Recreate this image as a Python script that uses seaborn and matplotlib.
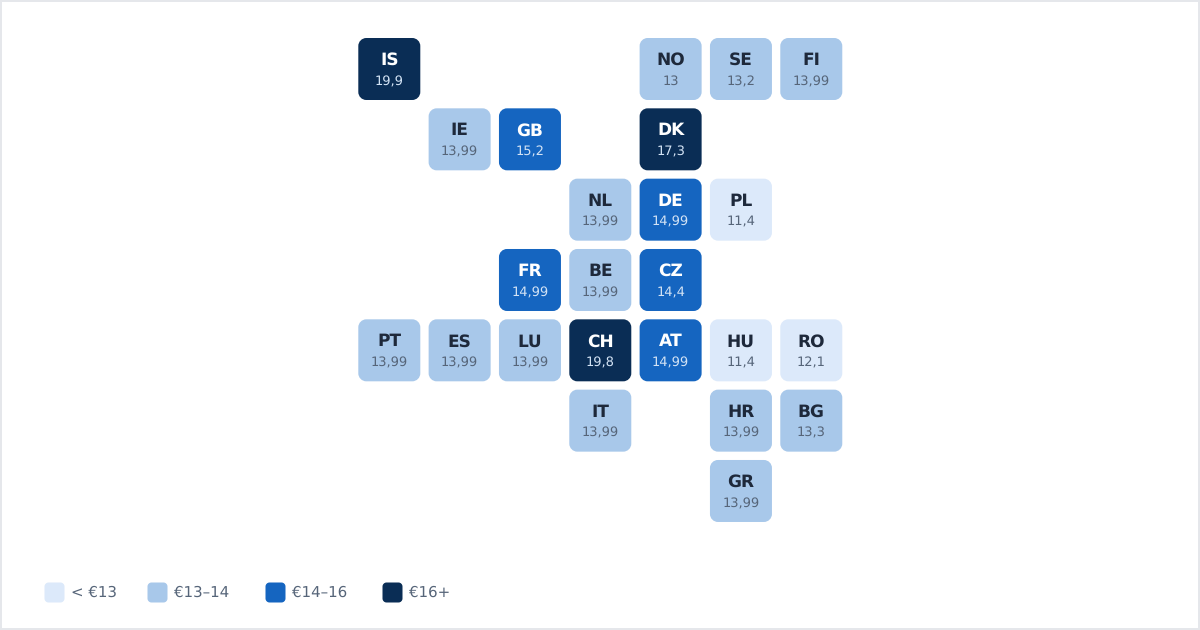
import numpy as np
import pandas as pd
import matplotlib
matplotlib.use("Agg")
import matplotlib.pyplot as plt
from matplotlib.path import Path
from matplotlib.patches import Rectangle
from matplotlib.lines import Line2D
import seaborn as sns

codes = ["IS","NO","SE","FI","IE","GB","DK","NL","DE","PL","FR","BE","CZ",
         "PT","ES","LU","CH","AT","HU","RO","IT","HR","BG","GR"]
values = [19.9,13,13.2,13.99,13.99,15.2,17.3,13.99,14.99,11.4,14.99,13.99,14.4,
          13.99,13.99,13.99,19.8,14.99,11.4,12.1,13.99,13.99,13.3,13.99]
labels = ["19,9","13","13,2","13,99","13,99","15,2","17,3","13,99","14,99","11,4","14,99","13,99","14,4",
          "13,99","13,99","13,99","19,8","14,99","11,4","12,1","13,99","13,99","13,3","13,99"]
grid_col = [0,4,5,6,1,2,4,3,4,5,2,3,4,0,1,2,3,4,5,6,3,5,6,5]
grid_row = [0,0,0,0,1,1,1,2,2,2,3,3,3,4,4,4,4,4,4,4,5,5,5,6]
bands = ["< €13","€13–14","€14–16","€16+"]
band_edges = [13,14,16]
band_colors = ["#DCE9FA","#A8C8EA","#1565C0","#0A2D55"]
code_colors = ["#1E293B","#1E293B","#FFFFFF","#FFFFFF"]
value_colors = ["#566579","#566579","#D3E3F5","#D3E3F5"]
legend_left_px = [44,147,265,382]

df = pd.DataFrame({"code":codes,"value":values,"label":labels,"col":grid_col,"row":grid_row})
df["band"] = [bands[int(np.searchsorted(band_edges, v, side="right"))] for v in df["value"]]

def rounded_square(r):
    k = 0.5523 * r
    a = 1 - r
    v = [(-a,-1),(a,-1),(a+k,-1),(1,-a-k),(1,-a),(1,a),(1,a+k),(a+k,1),(a,1),
         (-a,1),(-a-k,1),(-1,a+k),(-1,a),(-1,-a),(-1,-a-k),(-a-k,-1),(-a,-1)]
    c = [Path.MOVETO,Path.LINETO,Path.CURVE4,Path.CURVE4,Path.CURVE4,Path.LINETO,Path.CURVE4,Path.CURVE4,Path.CURVE4,
         Path.LINETO,Path.CURVE4,Path.CURVE4,Path.CURVE4,Path.LINETO,Path.CURVE4,Path.CURVE4,Path.CURVE4]
    return Path(v,c)

sns.set_theme(style="white")
plt.rcParams["font.family"] = ["DejaVu Sans"]
plt.rcParams["text.hinting"] = "no_hinting"
plt.rcParams["text.hinting_factor"] = 1
W, H = 1200, 630
fig = plt.figure(figsize=(W/100, H/100), dpi=100, facecolor="white")
ax = fig.add_axes([0,0,1,1])
px = 72/100
marker = rounded_square(8/31)
sns.scatterplot(data=df, x="col", y="row", hue="band", hue_order=bands,
                palette=dict(zip(bands, band_colors)), marker=marker,
                s=(62*px)**2, linewidth=0, legend=False, ax=ax, zorder=2)
sx, sy = 70.33, 70.33
ax.set_xlim((0-389.3)/sx, (W-389.3)/sx)
ax.set_ylim((H-69)/sy, (0-69)/sy)
ax.axis("off")

for _, r in df.iterrows():
    i = bands.index(r["band"])
    ax.annotate(r["code"], (r["col"], r["row"]), xytext=(0, 8.6*px), textcoords="offset points",
                ha="center", va="center", fontsize=16.5*px, fontweight="bold",
                color=code_colors[i], zorder=3)
    ax.annotate(r["label"], (r["col"], r["row"]), xytext=(0, -12.6*px), textcoords="offset points",
                ha="center", va="center", fontsize=13*px,
                color=value_colors[i], zorder=3)

legend_marker = rounded_square(4/10)
for left, name, colour in zip(legend_left_px, bands, band_colors):
    fig.add_artist(Line2D([(left+9.7)/W], [(H-592)/H], transform=fig.transFigure, linestyle="none",
                          marker=legend_marker, markersize=20*px, markerfacecolor=colour, markeredgewidth=0))
    fig.text((left+27)/W, (H-591.5)/H, name, ha="left", va="center_baseline", fontsize=15*px, color="#566579")

fig.add_artist(Rectangle((0,0), 1, 1, transform=fig.transFigure, fill=False,
                         edgecolor="#E5E7EB", linewidth=4*px))
fig.savefig("out.png", dpi=100, facecolor="white")
